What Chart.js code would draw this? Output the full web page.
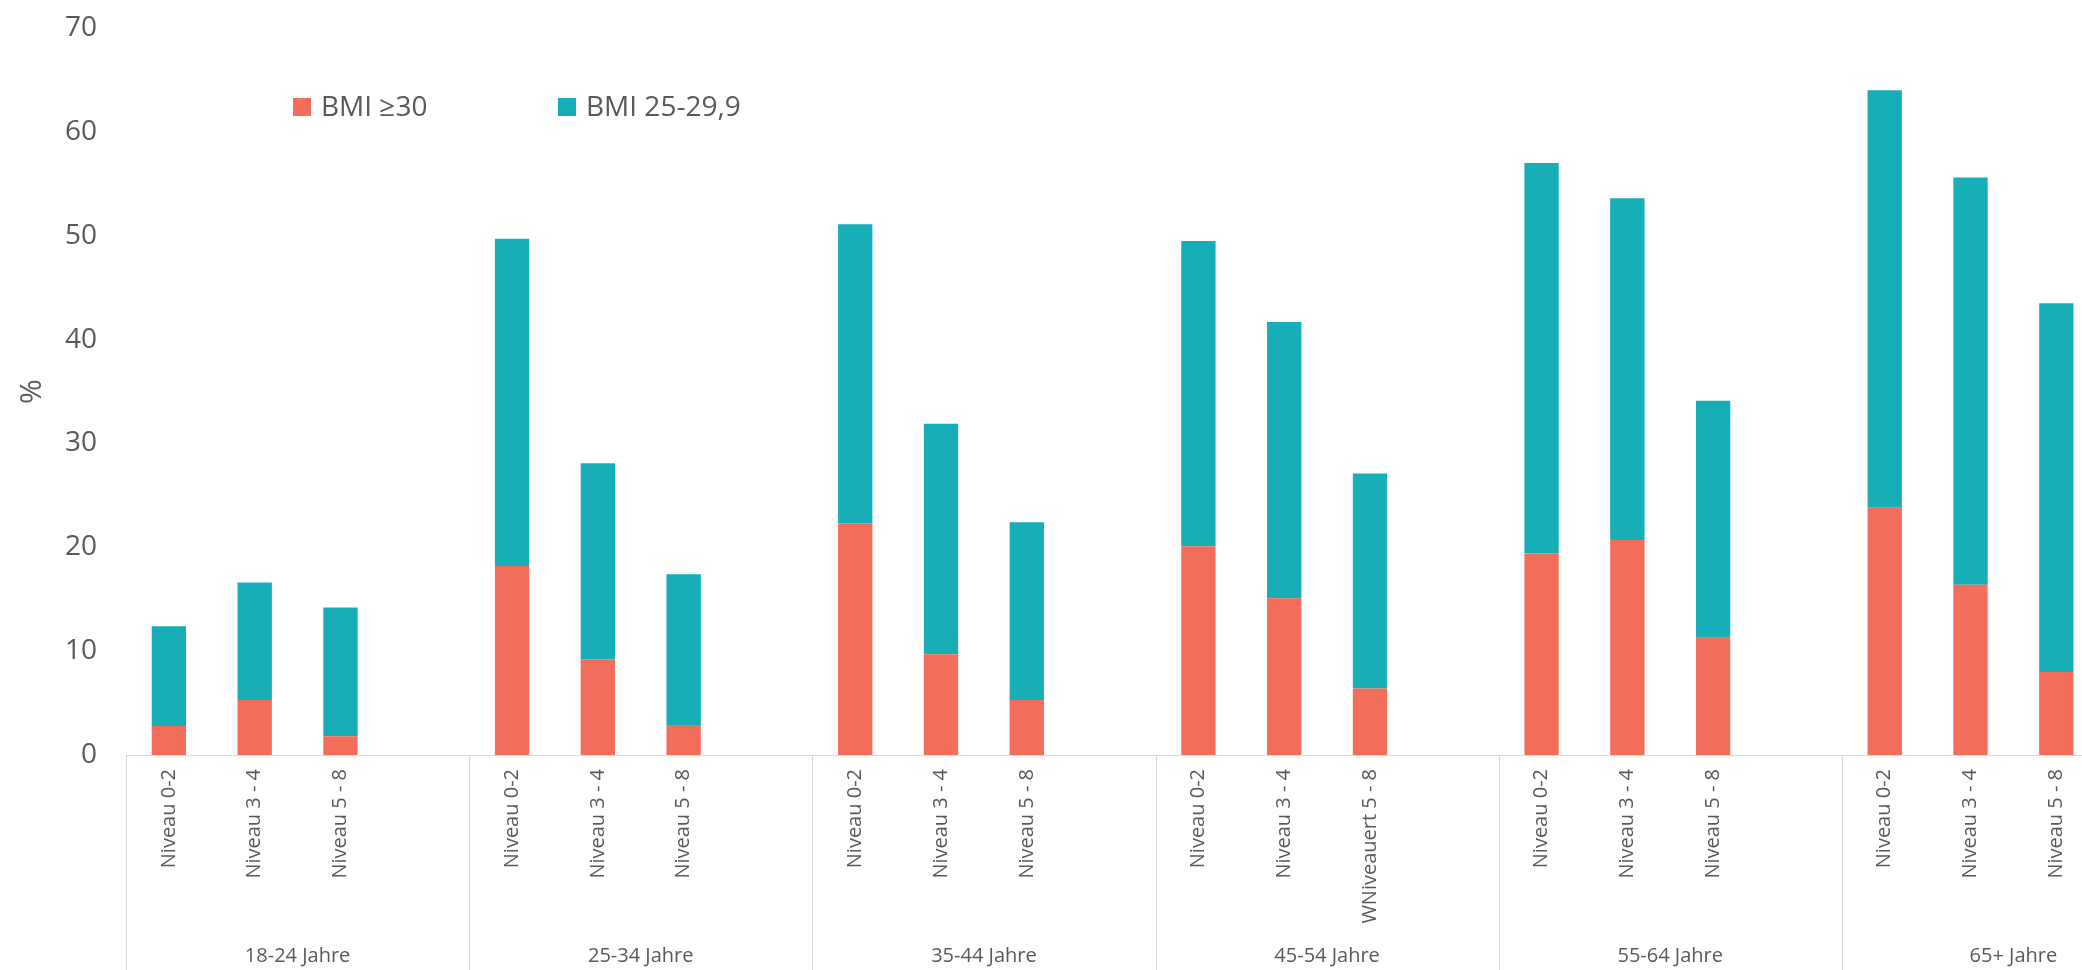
<!DOCTYPE html>
<html>
<head>
<meta charset="utf-8">
<script src="https://cdn.jsdelivr.net/npm/chart.js@4.4.1/dist/chart.umd.min.js"></script>
<style>
  html, body { margin: 0; padding: 0; background: #fff; overflow: hidden; }
  #wrap { width: 2190px; height: 970px; }
</style>
</head>
<body>
<div id="wrap"><canvas id="bmiChart" width="2190" height="970"></canvas></div>
<script>
// age groups, each one has 3 education levels and an empty slot after it
const ageGroups = ['18-24 Jahre', '25-34 Jahre', '35-44 Jahre', '45-54 Jahre', '55-64 Jahre', '65+ Jahre'];

const tickLabels = [
    'Niveau 0-2', 'Niveau 3 - 4', 'Niveau 5 - 8', '',
    'Niveau 0-2', 'Niveau 3 - 4', 'Niveau 5 - 8', '',
    'Niveau 0-2', 'Niveau 3 - 4', 'Niveau 5 - 8', '',
    'Niveau 0-2', 'Niveau 3 - 4', 'WNiveauert 5 - 8', '',
    'Niveau 0-2', 'Niveau 3 - 4', 'Niveau 5 - 8', '',
    'Niveau 0-2', 'Niveau 3 - 4', 'Niveau 5 - 8', ''
];

// BMI >= 30 (bottom segment)
const obese = [
    2.8, 5.3, 1.8, null,
    18.2, 9.2, 2.9, null,
    22.3, 9.7, 5.3, null,
    20.1, 15.1, 6.4, null,
    19.4, 20.7, 11.3, null,
    23.8, 16.4, 8.0, null
];

// BMI 25-29,9 (stacked on top)
const overweight = [
    9.6, 11.3, 12.4, null,
    31.5, 18.9, 14.5, null,
    28.8, 22.2, 17.1, null,
    29.4, 26.6, 20.7, null,
    37.6, 32.9, 22.8, null,
    40.2, 39.2, 35.5, null
];

const seriesNames = ['BMI ≥30', 'BMI 25-29,9'];
const seriesColors = ['#F26E5B', '#17AEB8'];

const textColor = '#595959';
const fontFamily = "'Open Sans', 'Segoe UI', sans-serif";

Chart.defaults.font.family = fontFamily;
Chart.defaults.color = textColor;

// legend drawn inside the plot area, top left
const legendInside = {
    id: 'legendInside',
    afterDraw(chart) {
        const { ctx, chartArea } = chart;
        const offsets = [167, 432];
        ctx.save();
        ctx.font = `28px ${fontFamily}`;
        ctx.textBaseline = 'middle';
        chart.data.datasets.forEach((ds, i) => {
            const x = chartArea.left + offsets[i];
            const y = chartArea.top + 79;
            ctx.fillStyle = ds.backgroundColor;
            ctx.fillRect(x, y - 9, 18, 18);
            ctx.fillStyle = textColor;
            ctx.fillText(ds.label, x + 28, y + 1);
        });
        ctx.restore();
    }
};

// second row of the category axis: age group names and separators
const ageGroupAxis = {
    id: 'ageGroupAxis',
    afterDraw(chart) {
        const { ctx, chartArea, scales: { x } } = chart;
        const slot = x.getPixelForValue(1) - x.getPixelForValue(0);
        ctx.save();
        ctx.strokeStyle = '#d9d9d9';
        ctx.lineWidth = 1;
        ctx.fillStyle = textColor;
        ctx.font = `20px ${fontFamily}`;
        ctx.textAlign = 'center';
        ctx.textBaseline = 'middle';
        ageGroups.forEach((name, i) => {
            const left = x.getPixelForValue(i * 4) - slot / 2;
            const lx = Math.round(left) + 0.5;
            ctx.beginPath();
            ctx.moveTo(lx, chartArea.bottom);
            ctx.lineTo(lx, chart.height);
            ctx.stroke();
            ctx.fillText(name, left + slot * 2, chartArea.bottom + 201);
        });
        ctx.restore();
    }
};

new Chart(document.getElementById('bmiChart'), {
    type: 'bar',
    data: {
        labels: tickLabels,
        datasets: [
            { label: seriesNames[0], data: obese, backgroundColor: seriesColors[0] },
            { label: seriesNames[1], data: overweight, backgroundColor: seriesColors[1] }
        ]
    },
    options: {
        responsive: false,
        animation: false,
        layout: { padding: { top: 28, right: 5, left: 0, bottom: 0 } },
        datasets: { bar: { categoryPercentage: 1, barPercentage: 0.4 } },
        plugins: {
            legend: { display: false },
            tooltip: { enabled: false }
        },
        scales: {
            x: {
                stacked: true,
                grid: { display: false, drawTicks: false },
                border: { display: true, color: '#d9d9d9', width: 1 },
                ticks: {
                    autoSkip: false,
                    minRotation: 90,
                    maxRotation: 90,
                    padding: 14,
                    color: textColor,
                    font: { size: 20 }
                },
                afterFit: (scale) => { scale.height = 215; }
            },
            y: {
                stacked: true,
                min: 0,
                max: 70,
                grid: { display: false, drawTicks: false },
                border: { display: false },
                ticks: {
                    stepSize: 10,
                    padding: 29,
                    color: textColor,
                    font: { size: 28 }
                },
                title: {
                    display: true,
                    text: '%',
                    color: textColor,
                    font: { size: 30 },
                    padding: { top: 14, bottom: 0 }
                },
                afterFit: (scale) => {
                    scale.width = 126;
                    // tick padding would otherwise push the plot top down
                    scale.paddingTop = 0;
                    scale.paddingBottom = 0;
                }
            }
        }
    },
    plugins: [legendInside, ageGroupAxis]
});
</script>
</body>
</html>
